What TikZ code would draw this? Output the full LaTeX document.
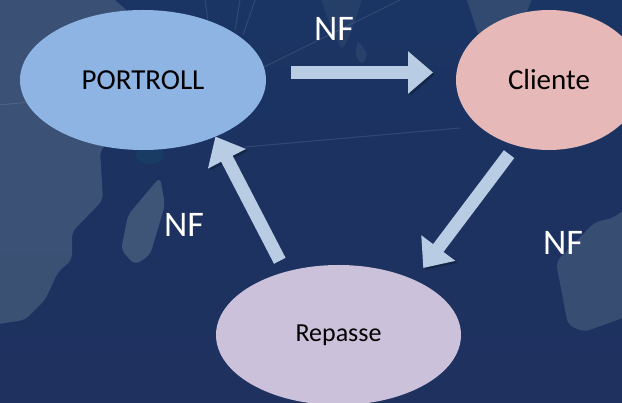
\documentclass[tikz,border=0pt]{standalone}
\usepackage{fontspec}
\setmainfont{Carlito}
\usetikzlibrary{arrows.meta,shapes.geometric}
\definecolor{navytop}{HTML}{1A3463}
\definecolor{navy}{HTML}{1F315F}
\definecolor{land}{HTML}{43597A}
\definecolor{flowblue}{HTML}{B8CDE4}
\definecolor{portblue}{HTML}{8EB4E3}
\definecolor{clientpink}{HTML}{E6B8B7}
\definecolor{repassemauve}{HTML}{CCC1DA}
\begin{document}
\begin{tikzpicture}[x=1pt, y=-1pt,
  main node/.style={ellipse, inner sep=0pt, outer sep=0pt, text=black, minimum height=140pt, font=\fontsize{29}{30}\selectfont},
  flow/.style={line width=13pt, draw=flowblue, -{Triangle[width=41pt,length=25pt]},
    preaction={draw=black, opacity=.25, transform canvas={xshift=2pt,yshift=-2pt}}},
  nf label/.style={inner sep=0pt, text=white, font=\fontsize{36}{38}\selectfont},
  ray/.style={draw=white, opacity=.1, line width=1pt}]
\useasboundingbox (0,0) rectangle (622,403);
\fill[top color=navytop, bottom color=navy] (0,0) rectangle (622,403);
\fill[land, opacity=.8, rounded corners=6pt] (-9,-9) -- (105,-9) -- (135,18) -- (165,10) -- (160,60) -- (150,110) -- (100,150) -- (103,200)
  -- (72,232) -- (72,260) -- (58,272) -- (45,300) -- (25,320) -- (-9,325) -- cycle;
\fill[land, opacity=.9, rounded corners=6pt] (160,177) -- (165,205) -- (150,255) -- (135,265) -- (121,250) -- (128,215) -- cycle;
\fill[land, opacity=.3, rounded corners=4pt] (318,-9) -- (365,-9) -- (350,35) -- (342,50) -- (332,30) -- cycle;
\fill[land, opacity=.35, rounded corners=4pt] (358,40) -- (368,55) -- (362,65) -- (355,55) -- cycle;
\fill[land, opacity=.6, rounded corners=4pt] (464,-9) -- (535,-9) -- (520,30) -- (480,40) -- cycle;
\fill[land, opacity=.7, rounded corners=6pt] (631,205) -- (613,218) -- (595,222) -- (556,262) -- (568,325) -- (584,332) -- (631,315) -- cycle;
\draw[ray] (205,0) -- (208,20);
\draw[ray] (240,0) -- (235,30);
\draw[ray] (255,0) -- (243,35);
\draw[ray] (262,68) -- (400,0);
\draw[ray] (245,147) -- (460,128);
\draw[ray] (0,105) -- (30,102);
\fill[teal, opacity=.12] (150,155) ellipse [x radius=14pt, y radius=9pt];
\node[main node, fill=portblue, minimum width=246pt] (portroll) at (143,80) {PORTROLL};
\node[main node, fill=clientpink, minimum width=186pt] (cliente) at (549,80) {Cliente};
\node[main node, fill=repassemauve, minimum width=245pt, font=\fontsize{26}{28}\selectfont] (repasse) at (338.5,335) {Repasse};
\draw[flow, shorten <=25pt, shorten >=23pt] ([yshift=7.5pt]portroll.east) -- ([yshift=7.5pt]cliente.west);
\draw[flow, shorten <=11pt, shorten >=15pt] (cliente.243.4) -- (repasse.36);
\draw[flow, shorten <=12.5pt] (repasse.130.7) -- (portroll.322.9);
\node[nf label] (nf top) at (334,28.5) {NF};
\node[nf label] (nf left) at (184,225) {NF};
\node[nf label] (nf right) at (563,243) {NF};
\end{tikzpicture}
\end{document}
